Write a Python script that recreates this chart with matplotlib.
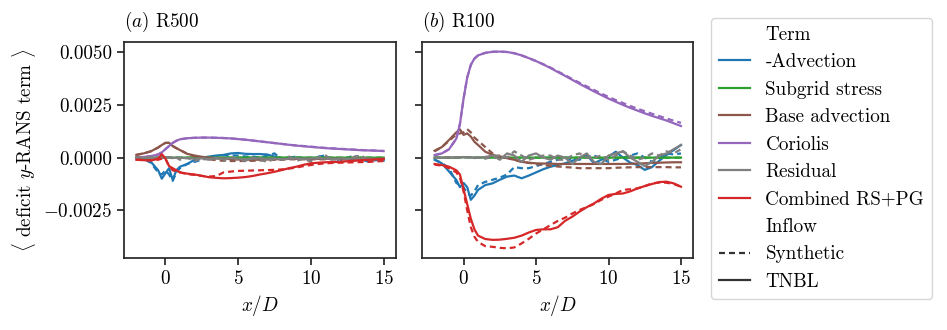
import matplotlib
matplotlib.use("Agg")
import matplotlib.pyplot as plt
from matplotlib.lines import Line2D
import numpy as np

plt.rcParams["font.family"] = "serif"
plt.rcParams["font.serif"] = ["cmr10", "DejaVu Serif"]
plt.rcParams["mathtext.fontset"] = "cm"
plt.rcParams["axes.formatter.use_mathtext"] = True
plt.rcParams["font.size"] = 13.75

SCALE = 1e-4
DASH = (2.7, 1.8)

x_d = [-2, -1.5, -1, -0.5, -0.25, 0, 0.25, 0.5, 0.75, 1, 1.5, 2, 2.5, 3, 3.5, 4, 4.5, 5, 5.5,
       6, 6.5, 7, 7.5, 8, 8.5, 9, 9.5, 10, 10.5, 11, 11.5, 12, 12.5, 13, 13.5, 14, 14.5, 15]

terms = ["-Advection", "Subgrid stress", "Base advection", "Coriolis", "Residual", "Combined RS+PG"]
term_colors = ["#1f77b4", "#2ca02c", "#8c564b", "#9467bd", "#7f7f7f", "#d62728"]
inflows = ["Synthetic", "TNBL"]

# ---- R500 ----
r500_adv_syn = [0, -0.5, -2.5, -7, -8, -6, -8, -11, -7, -5, -3, -2, -1, 0, 0.5, 1, 1, 1, 0.5,
                0.5, 0, 1, 2, -1, 0, 0.5, -0.5, -1, 0.5, 1, -1, -2, 0, 1, -1, -2, -1, -1]
r500_adv_tnbl = [0, -0.5, -2, -6, -10, -7.4, -5, -10.6, -6, -4.3, -3, -1, 0, 0.5, 1, 1.3, 2, 2.2, 1.8,
                 1.7, 1.7, 1.5, 0.5, -0.2, 0, 0, -0.2, -0.2, 0, 0, -0.2, -0.3, -0.4, -0.5, -0.8, -1, -1.2, -1.4]
r500_sgs_syn = [0, 0, 0, 0, 0.1, 0.1, 0.1, 0, 0, 0, 0, 0, 0, 0, 0, 0, 0, 0, 0,
                0, 0, 0, 0, 0, 0, 0, 0, 0, 0, 0, 0, 0, 0, 0, 0, 0, 0, 0]
r500_sgs_tnbl = [0, 0, 0, 0, 0.1, 0.1, 0.1, 0, 0, 0, 0, 0, 0, 0, 0, 0, 0, 0, 0,
                 0, 0, 0, 0, 0, 0, 0, 0, 0, 0, 0, 0, 0, 0, 0, 0, 0, 0, 0]
r500_base_syn = [1.3, 2, 3, 4.8, 6, 7, 7, 5.5, 4.5, 3.6, 1.8, 0.6, -0.2, -0.8, -1.2, -1.5, -1.6, -1.6, -1.6,
                 -1.5, -1.4, -1.2, -1, -0.9, -0.8, -0.8, -0.8, -0.8, -0.8, -0.8, -0.8, -0.8, -0.8, -0.8, -0.8, -0.8, -0.8, -0.8]
r500_base_tnbl = [1.3, 2, 3, 4.8, 6, 7, 7, 5.5, 4.5, 3.6, 1.8, 1, 0.4, 0, -0.3, -0.5, -0.7, -0.9, -1,
                  -1, -1, -0.9, -0.8, -0.7, -0.6, -0.6, -0.6, -0.6, -0.6, -0.6, -0.6, -0.6, -0.6, -0.6, -0.6, -0.6, -0.6, -0.6]
r500_cor_syn = [0, 0.3, 0.7, 1.5, 2.5, 4, 5.5, 7, 8, 8.7, 9.2, 9.4, 9.5, 9.5, 9.4, 9.3, 9.1, 8.8, 8.5,
                8.1, 7.7, 7.3, 6.9, 6.5, 6.1, 5.8, 5.5, 5.2, 4.9, 4.6, 4.4, 4.2, 4.0, 3.8, 3.6, 3.5, 3.3, 3.2]
r500_cor_tnbl = [0, 0.3, 0.7, 1.5, 2.5, 4, 5.5, 7, 8, 8.7, 9.2, 9.4, 9.5, 9.5, 9.4, 9.3, 9.1, 8.8, 8.5,
                 8.1, 7.7, 7.3, 6.9, 6.5, 6.1, 5.7, 5.4, 5.1, 4.8, 4.5, 4.3, 4.1, 3.9, 3.7, 3.5, 3.4, 3.3, 3.1]
r500_res_syn = [0, 0, 0.2, 0, -0.2, 0, 0.2, -0.5, 0, -1, 0, -1.5, -0.5, -1, 0, -1.5, 0.5, -1, -1.5,
                0, -1, -2, -0.5, -1, 0.5, -1.5, -0.5, -2, 0, 1, -1, -0.5, -1, 0.5, 1, -2, -0.5, -1]
r500_res_tnbl = [0, 0, 0, 0, 0, 0, 0.2, -0.2, 0, 0, -0.3, -0.5, -0.3, -0.6, -0.4, -0.5, -0.3, -0.5, -0.8,
                 -0.5, -0.3, -0.6, -0.4, -0.7, -0.5, -0.3, -0.6, -0.4, -0.3, -0.5, -0.6, -0.4, -0.5, -0.3, -0.5, -0.4, -0.6, -0.5]
r500_comb_syn = [-1, -1.1, -1.2, -1, -0.5, -0.5, -4, -6, -6.5, -7, -7.8, -8.2, -8.7, -9, -8.7, -7, -6.6, -6.3, -6.2,
                 -6.1, -6, -5.9, -5.8, -5.6, -5.2, -4.7, -4, -3.5, -3, -2.7, -2.5, -2.4, -2.3, -2.2, -2.1, -2, -1.8, -1.6]
r500_comb_tnbl = [-1, -1.2, -1.4, -0.5, 1.7, -0.5, -4, -5, -6, -7, -7.6, -8, -8.6, -9.3, -9.6, -9.8, -9.7, -9.5, -9.2,
                  -8.7, -8, -7.4, -6.7, -5.9, -5, -4.3, -3.4, -2.7, -2.4, -2.2, -2.1, -2, -1.7, -1.5, -1.2, -1, -0.8, -0.6]

# ---- R100 ----
r100_adv_syn = [-1, -2.5, -5, -12, -13, -14, -17, -18, -16, -13, -11.5, -10.5, -9.5, -8, -4.5, -5, -5, -4, -3,
                -2, -1, 0, -1, -1, 0.5, 1, -0.5, -2, -1, 0, 1, 2, 0, -2, -0.5, 2, 1.5, 2]
r100_adv_tnbl = [-1, -2.7, -6.6, -10.6, -14, -12, -14, -20, -18, -15.3, -13, -12.2, -10.5, -9, -8.5, -9.8, -8.5, -7, -5.5,
                 -4.3, -3.5, -2.7, -1.5, -0.3, 1.3, -2.7, -1, 0.5, 2.8, 0, -2.4, -3.5, -5.8, -4.5, -1.5, 1.3, 3.6, 6]
r100_sgs_syn = [0, 0, 0, 0, 0.1, 0.2, 0.2, 0.1, 0, 0, 0, 0, 0, 0, 0, 0, 0, 0, 0,
                0, 0, 0, 0, 0, 0, 0, 0, 0, 0, 0, 0, 0, 0, 0, 0, 0, 0, 0]
r100_sgs_tnbl = [0, 0, 0, 0, 0.1, 0.2, 0.2, 0.1, 0, 0, 0, 0, 0, 0, 0, 0, 0, 0, 0,
                 0, 0, 0, 0, 0, 0, 0, 0, 0, 0, 0, 0, 0, 0, 0, 0, 0, 0, 0]
r100_base_syn = [3, 5, 8, 11, 11.5, 12, 13.5, 12, 9.5, 8, 5, 2, 0.5, 0, -1, -2, -2.5, -3, -3.5,
                 -4, -4.2, -4.5, -4.7, -5, -5, -5, -5, -5, -4.8, -4.7, -4.6, -4.5, -4.5, -4.5, -4.5, -4.5, -4.6, -4.6]
r100_base_tnbl = [3.3, 5, 8.4, 12, 13.4, 10.8, 11.5, 10, 7.5, 6, 2.8, 1.3, 0.5, -0.3, -1, -2, -2.4, -2.7, -2.8,
                  -2.9, -3, -3, -3, -3, -3, -3, -3, -3, -3, -3, -2.9, -2.8, -2.7, -2.5, -2.4, -2.3, -2.2, -2.2]
r100_cor_syn = [1.2, 2, 4, 9, 16, 28, 38, 44, 47, 48.5, 49.7, 50.2, 50.3, 50.1, 49.5, 48.5, 47.2, 45.8, 44.3,
                42.7, 40.9, 39.1, 37.3, 35.5, 33.8, 32.1, 30.4, 28.8, 27.3, 25.9, 24.5, 23.2, 22, 20.8, 19.7, 18.6, 17.5, 16.5]
r100_cor_tnbl = [1.2, 2, 4, 9, 16, 28, 38, 44, 47, 48.5, 49.7, 50.2, 50.3, 50.1, 49.5, 48.5, 47.2, 45.8, 44.2,
                 42.5, 40.6, 38.8, 36.9, 35, 33.2, 31.4, 29.7, 28, 26.5, 25, 23.6, 22.3, 21, 19.8, 18.7, 17.6, 16.3, 15]
r100_res_syn = [0, 0, 0.2, 0, 0.2, 0, 0.3, 0, 0.2, 0, -0.5, 0.5, 1, 0, 3, 1, -1, 0, 1,
                1, -1, -1, 1, 2, 0, 0, 1, -1, 1, 3, 1, -1, 0, 2, 1, 3, 2, 4]
r100_res_tnbl = [0, 0, 0, 0.2, 0, 0.3, 0, 0.2, -0.2, 0, 0.3, 1, -1, 2, 1, -2, 1, 2, 0,
                 -1, 1, 0, -3, 0, 2, -2, -3, 1, 2, 3, 0, -2, -4, -2, 1, 2, 4, 6]
r100_comb_syn = [-3.3, -3.8, -5, -7, -9.5, -16, -25, -33, -37.5, -40, -42, -42.3, -42.8, -43, -42.6, -40.7, -38.5, -36, -34,
                 -32, -30, -28.5, -26.5, -24.8, -23.5, -22, -20, -18.5, -17, -15.3, -15, -14.6, -13.5, -12.2, -11.8, -11.9, -12.5, -13.8]
r100_comb_tnbl = [-3, -3.5, -4.3, -6, -8, -15, -22, -29, -34, -37, -38.6, -39, -38.9, -38.5, -38, -37, -35.5, -34.3, -34,
                  -34, -33, -30, -28, -25.6, -23.5, -21.7, -19.5, -17.7, -17.2, -17, -16, -14.6, -13.5, -12.5, -11.6, -11.4, -12.2, -13.8]

panels = [
    ("$(a)$ R500", [(r500_adv_syn, r500_adv_tnbl), (r500_sgs_syn, r500_sgs_tnbl),
                    (r500_base_syn, r500_base_tnbl), (r500_cor_syn, r500_cor_tnbl),
                    (r500_res_syn, r500_res_tnbl), (r500_comb_syn, r500_comb_tnbl)]),
    ("$(b)$ R100", [(r100_adv_syn, r100_adv_tnbl), (r100_sgs_syn, r100_sgs_tnbl),
                    (r100_base_syn, r100_base_tnbl), (r100_cor_syn, r100_cor_tnbl),
                    (r100_res_syn, r100_res_tnbl), (r100_comb_syn, r100_comb_tnbl)]),
]

fig = plt.figure(figsize=(9.47, 3.3), dpi=100)
ax_a = fig.add_axes([0.1309, 0.2182, 0.2873, 0.6536])
ax_b = fig.add_axes([0.4459, 0.2182, 0.2862, 0.6536], sharey=ax_a)

x = np.array(x_d)
for ax, (title, series) in zip([ax_a, ax_b], panels):
    for color, (syn, tnbl) in zip(term_colors, series):
        ax.plot(x, np.array(syn) * SCALE, color=color, lw=1.6, ls="--", dashes=DASH)
        ax.plot(x, np.array(tnbl) * SCALE, color=color, lw=1.6, ls="-")
    ax.set_title(title, loc="left", fontsize=13.75, pad=11)
    ax.set_xlabel("$x/D$")
    ax.set_xticks([0, 5, 10, 15])
    for s in ax.spines.values():
        s.set_color("#262626")
        s.set_linewidth(1.25)
    ax.tick_params(color="#262626", width=1.25, length=5)

ax_a.set_ylim(-0.00476, 0.00547)
ax_a.set_yticks([-0.0025, 0.0, 0.0025, 0.005])
ax_a.yaxis.set_major_formatter(matplotlib.ticker.FuncFormatter(
    lambda v, p: ("$-$" if v < 0 else "") + f"{abs(v):.4f}"))
ax_a.set_ylabel(r"$\langle$ deficit $y$-RANS term $\rangle$")
plt.setp(ax_b.get_yticklabels(), visible=False)

# legend, seaborn style with sub-titles
blank = Line2D([], [], color="none")
handles = [blank] + [Line2D([], [], color=c, lw=1.6) for c in term_colors] + [blank] + \
          [Line2D([], [], color="#333333", lw=1.6, ls="--", dashes=DASH), Line2D([], [], color="#333333", lw=1.6)]
labels = ["Term"] + terms + ["Inflow"] + inflows
leg = fig.legend(handles, labels, loc="upper left", bbox_to_anchor=(711 / 947, 1 - 18 / 330),
                 borderaxespad=0, handlelength=1.65, frameon=True, fancybox=True, borderpad=0.4,
                 labelspacing=0.5, handletextpad=0.8)
leg.get_frame().set_edgecolor("#cccccc")

fig.savefig("out.png", dpi=100)
